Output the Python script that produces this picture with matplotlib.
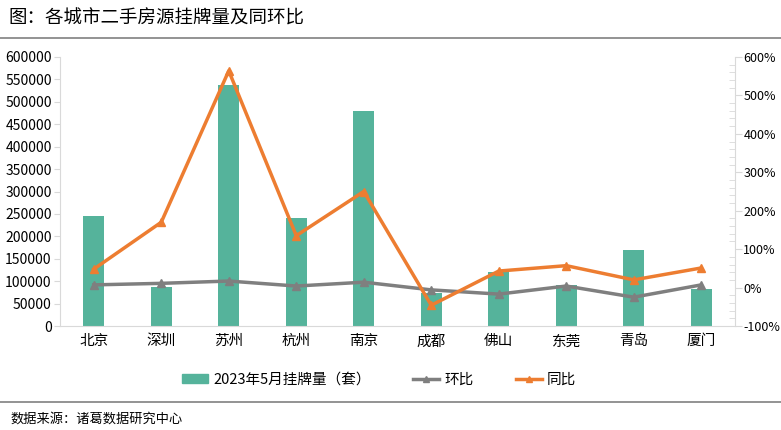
import matplotlib
matplotlib.use("Agg")
import matplotlib.pyplot as plt
from matplotlib.ticker import MultipleLocator, FuncFormatter
from matplotlib.lines import Line2D
from matplotlib.patches import Patch

plt.rcParams['font.family'] = ['Noto Sans CJK SC', 'DejaVu Sans']

cities = ["北京", "深圳", "苏州", "杭州", "南京", "成都", "佛山", "东莞", "青岛", "厦门"]
listings = [245000, 87000, 538000, 241000, 480000, 74000, 121000, 91000, 169000, 83000]
mom = [7, 11, 17, 4, 14, -6, -17, 4, -25, 7]        # 环比 (%)
yoy = [48, 170, 564, 135, 250, -46, 43, 57, 20, 51]  # 同比 (%)

bar_color = "#55B39B"
gray = "#7F7F7F"
orange = "#ED7D31"
axis_gray = "#D9D9D9"

W, H = 781, 430
fig = plt.figure(figsize=(W / 100, H / 100), dpi=100)
ax = fig.add_axes([60 / W, 1 - 326 / H, (735 - 60) / W, (326 - 57) / H])
x = list(range(len(cities)))
ax.bar(x, listings, width=0.31, color=bar_color, zorder=2)
ax.set_xlim(-0.5, len(cities) - 0.5)
ax.set_ylim(0, 600000)
ax.yaxis.set_major_locator(MultipleLocator(50000))
ax.set_xticks(x)
ax.set_xticklabels(cities, fontsize=10.5)
ax.tick_params(axis='x', length=0, pad=6)
ax.tick_params(axis='y', labelsize=10, length=4, color=axis_gray, pad=2)
for s in ['top', 'right']:
    ax.spines[s].set_visible(False)
ax.spines['left'].set_color(axis_gray)
ax.spines['bottom'].set_color(axis_gray)

ax2 = ax.twinx()
ax2.plot(x, mom, color=gray, lw=2.5, marker='^', ms=6, zorder=3)
ax2.plot(x, yoy, color=orange, lw=2.5, marker='^', ms=6, zorder=4)
ax2.set_ylim(-100, 600)
ax2.yaxis.set_major_locator(MultipleLocator(100))
ax2.yaxis.set_minor_locator(MultipleLocator(20))
ax2.yaxis.set_major_formatter(FuncFormatter(lambda v, p: f"{int(v)}%"))
ax2.tick_params(axis='y', which='major', labelsize=9, length=5, color=axis_gray, direction='out', pad=1)
ax2.tick_params(axis='y', which='minor', length=4, color=axis_gray, direction='in')
for s in ['top', 'left', 'bottom']:
    ax2.spines[s].set_visible(False)
ax2.spines['right'].set_color(axis_gray)

fig.text(8 / W, 1 - 19 / H, "图：各城市二手房源挂牌量及同环比", fontsize=13.3, va='center', ha='left')
fig.add_artist(Line2D([0, 1], [1 - 38 / H, 1 - 38 / H], transform=fig.transFigure, color="#808080", lw=1.2))
fig.add_artist(Line2D([0, 1], [1 - 402 / H, 1 - 402 / H], transform=fig.transFigure, color="#808080", lw=1.2))
fig.text(10 / W, 1 - 419 / H, "数据来源：诸葛数据研究中心", fontsize=9.5, va='center', ha='left')

handles = [Patch(color=bar_color),
           Line2D([], [], color=gray, lw=2.5, marker='^', ms=5),
           Line2D([], [], color=orange, lw=2.5, marker='^', ms=5)]
labels = ["2023年5月挂牌量（套）", "环比", "同比"]
fig.legend(handles, labels, loc='center', bbox_to_anchor=(379 / W, 1 - 380 / H), ncol=3,
           frameon=False, fontsize=10.5, handlelength=1.8, handleheight=0.55, handletextpad=0.35,
           columnspacing=2.9)

fig.savefig("out.png", dpi=100)
